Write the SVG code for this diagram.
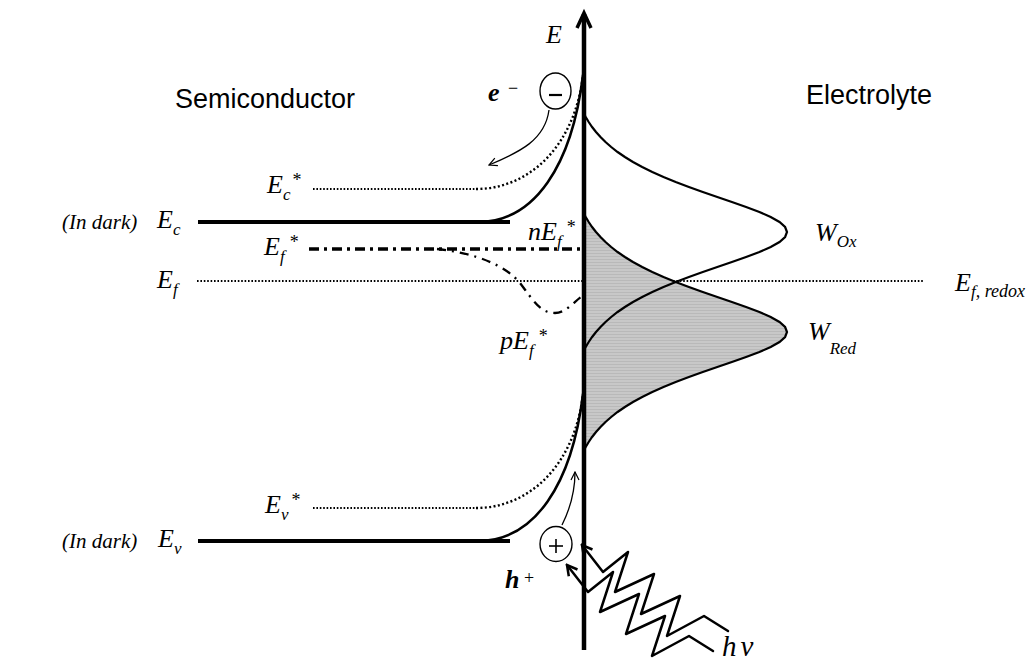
<svg xmlns="http://www.w3.org/2000/svg" xmlns:xlink="http://www.w3.org/1999/xlink" width="1035" height="662" viewBox="0 0 1035 662">
<style>
.t{font-family:"Liberation Serif","Times New Roman",serif;font-style:italic;font-size:26px;fill:#000}
.s{font-size:17px}
.st{font-size:18px;font-style:normal}
.b{font-weight:bold}
.dark{font-size:21px}
.sans{font-family:"Liberation Sans",Arial,sans-serif;font-size:27px;fill:#000}
.band{fill:none;stroke:#000;stroke-width:4}
.curve{fill:none;stroke:#000;stroke-width:2.5}
.dot{fill:none;stroke:#000;stroke-width:1.8;stroke-dasharray:1.6 1.8}
.dotc{fill:none;stroke:#000;stroke-width:2.4;stroke-dasharray:2 2.4}
.thin{fill:none;stroke:#000;stroke-width:1.3}
.zig{fill:none;stroke:#000;stroke-width:2.5;stroke-linejoin:round;stroke-linecap:round}
</style>
<defs>
<pattern id="hatch" width="4" height="3" patternUnits="userSpaceOnUse">
<rect width="4" height="3" fill="#c8c8c8"/>
<rect width="4" height="1" fill="#b9b9b9"/>
</pattern>
<marker id="thinArrow" viewBox="0 0 10 10" refX="9" refY="5" markerWidth="10" markerHeight="10" markerUnits="userSpaceOnUse" orient="auto">
<path d="M1,1 L9,5 L1,9" fill="none" stroke="#000" stroke-width="1.2"/>
</marker>
<marker id="zigArrow" viewBox="0 0 14 14" refX="12" refY="7" markerWidth="14" markerHeight="14" markerUnits="userSpaceOnUse" orient="auto">
<path d="M2,1.5 L12,7 L2,12.5" fill="none" stroke="#000" stroke-width="2.5" stroke-linejoin="miter"/>
</marker>
<path id="gauss" d="M583,112 L585.7,117 L588.7,122 L592.1,127 L596,132 L600.5,137 L605.5,142 L611.2,147 L617.6,152 L624.9,157 L633,162 L642.2,167 L652.3,172 L663.5,177 L675.7,182 L688.9,187 L702.8,192 L717.3,197 L731.9,202 L746.1,207 L759.4,212 L770.7,217 L779.5,222 L785.1,227 L787,232 L785.1,237 L779.5,242 L770.7,247 L759.4,252 L746.1,257 L731.9,262 L717.3,267 L702.8,272 L688.9,277 L675.7,282 L663.5,287 L652.3,292 L642.2,297 L633,302 L624.9,307 L617.6,312 L611.2,317 L605.5,322 L600.5,327 L596,332 L592.1,337 L588.7,342 L585.7,347 L583,352"/>
</defs>

<g id="levels">
<line class="dot" x1="313" y1="189" x2="478" y2="189"/>
<path class="dotc" d="M476,189 C530,189 575,145 583,75"/>
<line class="dot" x1="197" y1="281" x2="923" y2="281"/>
<line class="dot" x1="313" y1="508" x2="478" y2="508"/>
<path class="dotc" d="M476,508 C530,508 575,464 583,394"/>
<line x1="309" y1="249" x2="580" y2="249" stroke="#000" stroke-width="3.5" stroke-dasharray="10 5 3 5"/>
<path d="M437,249 C475,253 505,265 520,283 C533,300 540,313 555,313 C565,313 573,303 581,297" fill="none" stroke="#000" stroke-width="2.3" stroke-dasharray="9 6 2 6"/>
</g>

<g id="redox">
<use id="w-red" xlink:href="#gauss" href="#gauss" y="100" fill="url(#hatch)" stroke="#000" stroke-width="2.2"/>
<use id="w-ox" xlink:href="#gauss" href="#gauss" fill="none" stroke="#000" stroke-width="2.2"/>
</g>

<g id="bands">
<line class="band" x1="198" y1="222" x2="510" y2="222"/>
<path class="curve" d="M478,222 C535,222 572,165 583,75"/>
<line class="band" x1="198" y1="541" x2="510" y2="541"/>
<path class="curve" d="M478,541 C535,541 572,484 583,394"/>
</g>

<g id="axis">
<line x1="584" y1="650" x2="584" y2="14" stroke="#000" stroke-width="4.5"/>
<path d="M577,28 L584,13 L591,28" fill="none" stroke="#000" stroke-width="3.5"/>
</g>

<g id="electron">
<ellipse cx="555.5" cy="91" rx="15.5" ry="18" fill="none" stroke="#000" stroke-width="1.4"/>
<line x1="549" y1="95" x2="562" y2="95" stroke="#000" stroke-width="2.2"/>
</g>
<g id="hole">
<ellipse cx="556" cy="544" rx="16" ry="17.5" fill="none" stroke="#000" stroke-width="1.4"/>
<line x1="549" y1="546" x2="563" y2="546" stroke="#000" stroke-width="1.6"/>
<line x1="556" y1="539" x2="556" y2="553" stroke="#000" stroke-width="1.6"/>
</g>

<g id="connectors">
<path class="thin" d="M549,110 C545,140 520,152 489,165" marker-end="url(#thinArrow)"/>
<path class="thin" d="M562,525 C571,507 575,492 575,472" marker-end="url(#thinArrow)"/>
<path class="zig" d="M728,631 L704,616 L667,636 L680,596 L641,614 L654,574 L615,592 L628,552 L603,572 L582,545" marker-end="url(#zigArrow)"/>
<path class="zig" d="M713,651 L689,636 L652,656 L665,616 L626,634 L639,594 L600,612 L613,572 L588,592 L567,565" marker-end="url(#zigArrow)"/>
</g>

<g id="labels">
<text class="sans" x="175" y="108">Semiconductor</text>
<text class="sans" x="806" y="104">Electrolyte</text>
<text class="t" x="546" y="43">E</text>
<text class="t b" x="488" y="101">e</text>
<text class="t st" x="508" y="94">−</text>
<text class="t b" x="505" y="588">h</text>
<text class="t st" x="524" y="584">+</text>
<text class="t dark" x="62" y="229">(In dark)</text>
<text class="t dark" x="62" y="548">(In dark)</text>
<text class="t" x="157" y="228">E<tspan class="s" dy="7">c</tspan></text>
<text class="t" x="267" y="193">E<tspan class="s" dy="7">c</tspan><tspan class="st" dx="2" dy="-14.5">*</tspan></text>
<text class="t" x="264" y="255">E<tspan class="s" dy="7">f</tspan><tspan class="st" dx="5" dy="-14.5">*</tspan></text>
<text class="t" x="157" y="288">E<tspan class="s" dy="7">f</tspan></text>
<text class="t" x="528" y="240">nE<tspan class="s" dy="7">f</tspan><tspan class="st" dx="5" dy="-14.5">*</tspan></text>
<text class="t" x="500" y="349">pE<tspan class="s" dy="7">f</tspan><tspan class="st" dx="5" dy="-14.5">*</tspan></text>
<text class="t" x="265" y="513">E<tspan class="s" dy="7">v</tspan><tspan class="st" dx="3" dy="-14.5">*</tspan></text>
<text class="t" x="158" y="547">E<tspan class="s" dy="7">v</tspan></text>
<text class="t" x="815" y="241">W<tspan class="s" dy="6">Ox</tspan></text>
<text class="t" x="808" y="340">W<tspan class="s" dy="14">Red</tspan></text>
<text class="t" x="955" y="291">E<tspan class="s" dy="6">f</tspan><tspan class="s" style="font-size:18px">, redox</tspan></text>
<text class="t" x="722" y="656" style="font-size:29px">h<tspan dx="4">ν</tspan></text>
</g>
</svg>
